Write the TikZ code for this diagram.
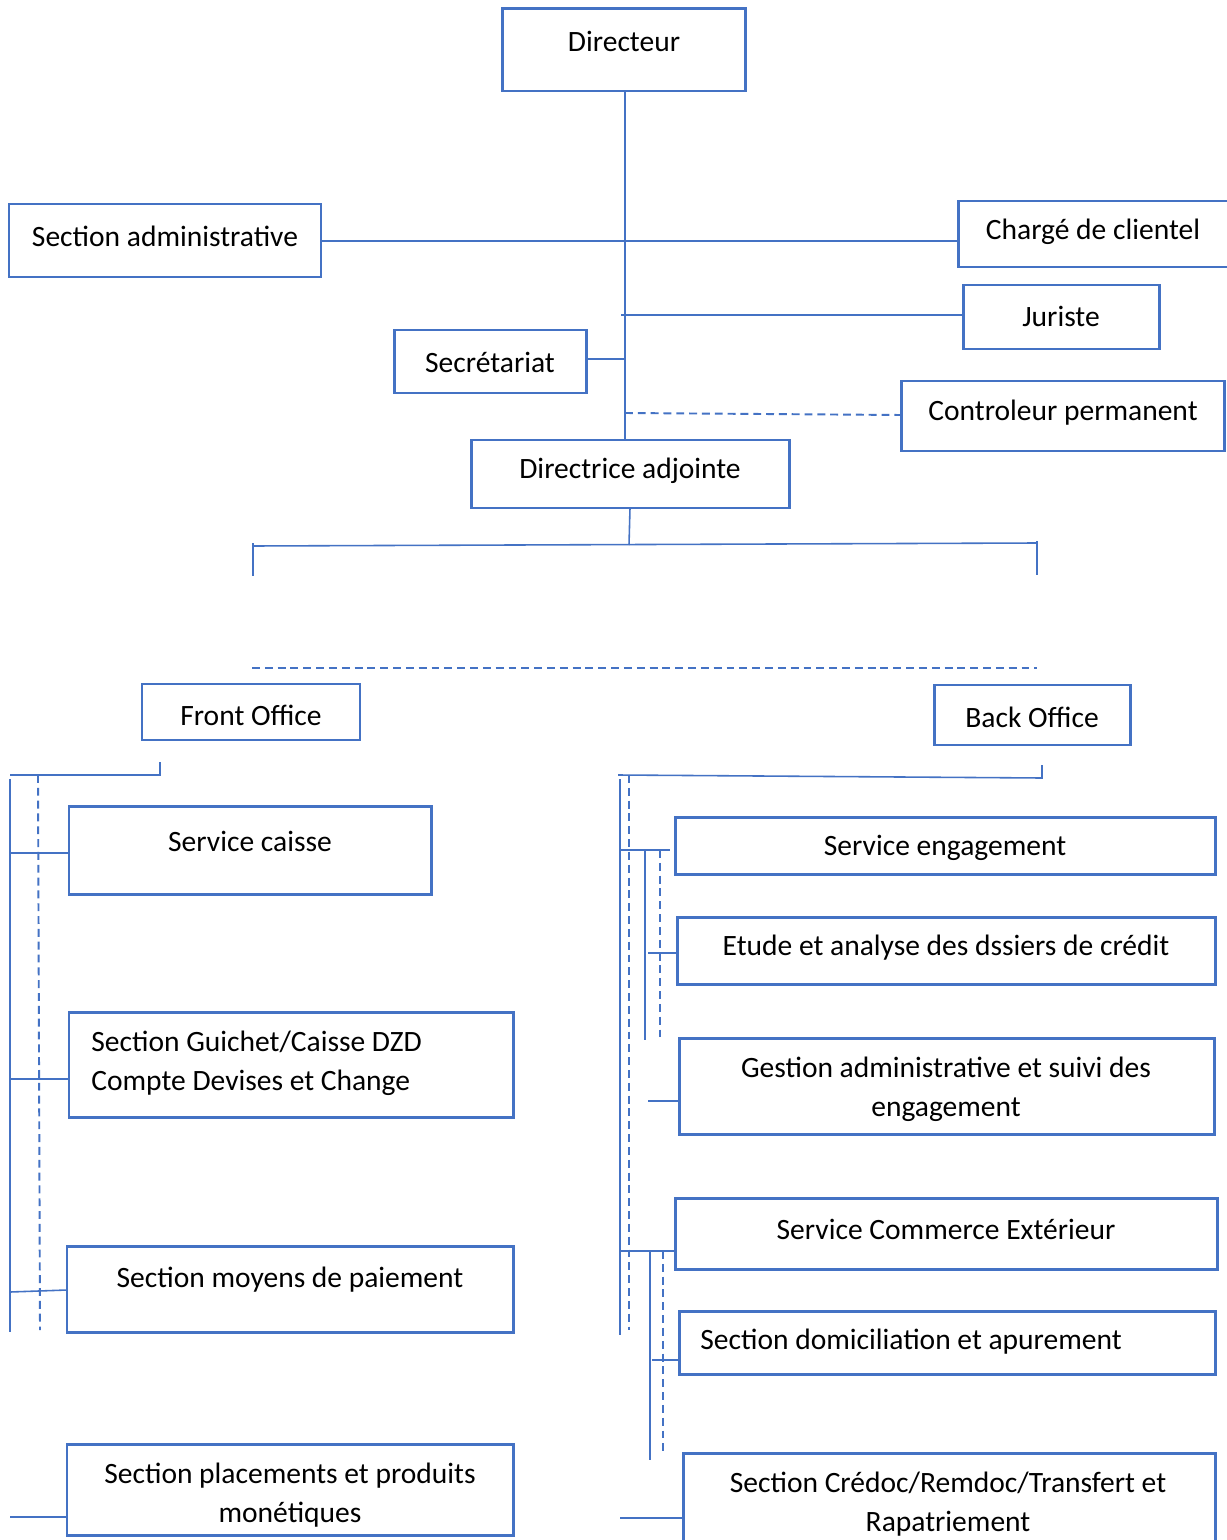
\documentclass[tikz,border=0pt]{standalone}
\usepackage{fontspec}
\setmainfont{Carlito}
\usetikzlibrary{fit}
\definecolor{ob}{HTML}{4472C4}
\begin{document}
\begin{tikzpicture}[x=0.02cm,y=-0.02cm,
  box/.style={draw=ob, line width=1.7pt, inner sep=0pt, outer sep=0pt},
  conn/.style={draw=ob, line width=0.9pt},
  dsh/.style={conn, line width=1.1pt, dash pattern=on 4.5pt off 2.8pt},
  txt/.style={font=\fontsize{16.8}{22}\selectfont, inner sep=0pt, align=center, text=black}]
\useasboundingbox[fill=white] (0,0) rectangle (1226,1540);

% ---------- boxes ----------
\node[box, fit={(502,9) (745,91)}] (dir) {};
\node[box, fit={(9,204) (321,277)}] (sadm) {};
\node[box, fit={(958,201) (1232,267)}] (chg) {};
\node[box, fit={(963,285) (1159,349)}] (jur) {};
\node[box, fit={(394,330) (586,393)}] (sec) {};
\node[box, fit={(901,381) (1224,451)}] (ctrl) {};
\node[box, fit={(471,440) (789,508)}] (dira) {};
\node[box, fit={(142,684) (360,740)}] (fo) {};
\node[box, fit={(934,685) (1130,745)}] (bo) {};
\node[box, fit={(69,806) (431,894)}] (sc) {};
\node[box, fit={(69,1012) (513,1117)}] (sg) {};
\node[box, fit={(67,1246) (513,1332)}] (smp) {};
\node[box, fit={(67,1444) (513,1535)}] (spl) {};
\node[box, fit={(675,817) (1215,874)}] (se) {};
\node[box, fit={(677,917) (1215,984)}] (etu) {};
\node[box, fit={(679,1038) (1214,1134)}] (gest) {};
\node[box, fit={(675,1198) (1217,1269)}] (sce) {};
\node[box, fit={(679,1311) (1215,1374)}] (dom) {};
\node[box, fit={(683,1453) (1215,1550)}] (cre) {};

% ---------- texts ----------
\node[txt] (tdir) at (624,41) {Directeur};
\node[txt] (tsadm) at (165,236) {Section administrative};
\node[txt] (tchg) at (1093,232) {Chargé de clientel};
\node[txt] (tjur) at (1061,316) {Juriste};
\node[txt] (tsec) at (490,362) {Secrétariat};
\node[txt] (tctrl) at (1063,413) {Controleur permanent};
\node[txt] (tdira) at (630,471) {Directrice adjointe};
\node[txt] (tfo) at (251,715) {Front Office};
\node[txt] (tbo) at (1032,717) {Back Office};
\node[txt] (tsc) at (250,841) {Service caisse};
\node[txt, align=left, anchor=west] (tsg) at (91,1063) {Section Guichet/Caisse DZD\\Compte Devises et Change};
\node[txt] (tsmp) at (290,1280) {Section moyens de paiement};
\node[txt] (tspl) at (290,1495) {Section placements et produits\\monétiques};
\node[txt] (tse) at (945,848) {Service engagement};
\node[txt] (tetu) at (946,948) {Etude et analyse des dssiers de crédit};
\node[txt] (tgest) at (946,1089) {Gestion administrative et suivi des\\engagement};
\node[txt] (tsce) at (946,1229) {Service Commerce Extérieur};
\node[txt, anchor=west] (tdom) at (700,1342) {Section domiciliation et apurement};
\node[txt] (tcre) at (948,1504) {Section Crédoc/Remdoc/Transfert et\\Rapatriement};

% ---------- top connectors ----------
\coordinate (spine) at (625,91);
\draw[conn] (spine) -- (spine |- dira.north);
\draw[conn] (sadm.east |- 0,241) -- (chg.west |- 0,241);
\coordinate (jl) at (621,315);
\draw[conn] (jl) -- (jl -| jur.west);
\draw[conn] (sec.east |- 0,359) -- (spine |- 0,359);
\draw[dsh] (spine |- 0,413) -- (ctrl.west |- 0,415);

% ---------- Directrice bus ----------
\coordinate (bus) at (629,545);
\coordinate (bl) at (253,546);
\coordinate (br) at (1037,543);
\coordinate (bld) at (253,576);
\coordinate (brd) at (1037,575);
\coordinate (dl) at (252,668);
\coordinate (dr) at (1037,668);
\draw[conn] (dira.south) -- (bus);
\draw[conn] (bl) -- (br);
\draw[conn] (253,543) -- (bld);
\draw[conn] (1037,541) -- (brd);
\draw[dsh] (dl) -- (dr);

% ---------- Front Office side ----------
\coordinate (f1) at (10,775);
\coordinate (f2) at (160,775);
\coordinate (f3) at (160,762);
\draw[conn] (f1) -- (f2) -- (f3);
\coordinate (lv1) at (10,779);
\coordinate (lv2) at (10,1332);
\draw[conn] (lv1) -- (lv2);
\coordinate (ld1) at (38,775);
\coordinate (ld2) at (40,1330);
\draw[dsh] (ld1) -- (ld2);
\draw[conn] (10,853) -- (sc.west |- 0,853);
\draw[conn] (10,1079) -- (sg.west |- 0,1079);
\draw[conn] (10,1292) -- (smp.west |- 0,1290);
\draw[conn] (10,1517) -- (spl.west |- 0,1517);

% ---------- Back Office side ----------
\coordinate (b1) at (618,775);
\coordinate (b2) at (1042,778);
\coordinate (b3) at (1042,765);
\draw[conn] (b1) -- (b2) -- (b3);
\coordinate (rv1) at (620,779);
\coordinate (rv2) at (620,1335);
\draw[conn] (rv1) -- (rv2);
\coordinate (rd1) at (629,775);
\coordinate (rd2) at (629,1330);
\draw[dsh] (rd1) -- (rd2);

\draw[conn] (620,850) -- (670,850);
\draw[conn] (645,850) -- (645,1040);
\draw[dsh] (660,850) -- (660,1040);
\draw[conn] (648,953) -- (etu.west |- 0,953);
\draw[conn] (648,1101) -- (gest.west |- 0,1101);

\draw[conn] (620,1251) -- (sce.west |- 0,1251);
\draw[conn] (650,1251) -- (650,1460);
\draw[dsh] (663,1251) -- (663,1455);
\draw[conn] (652,1360) -- (dom.west |- 0,1360);
\draw[conn] (620,1518) -- (cre.west |- 0,1518);
\end{tikzpicture}
\end{document}
